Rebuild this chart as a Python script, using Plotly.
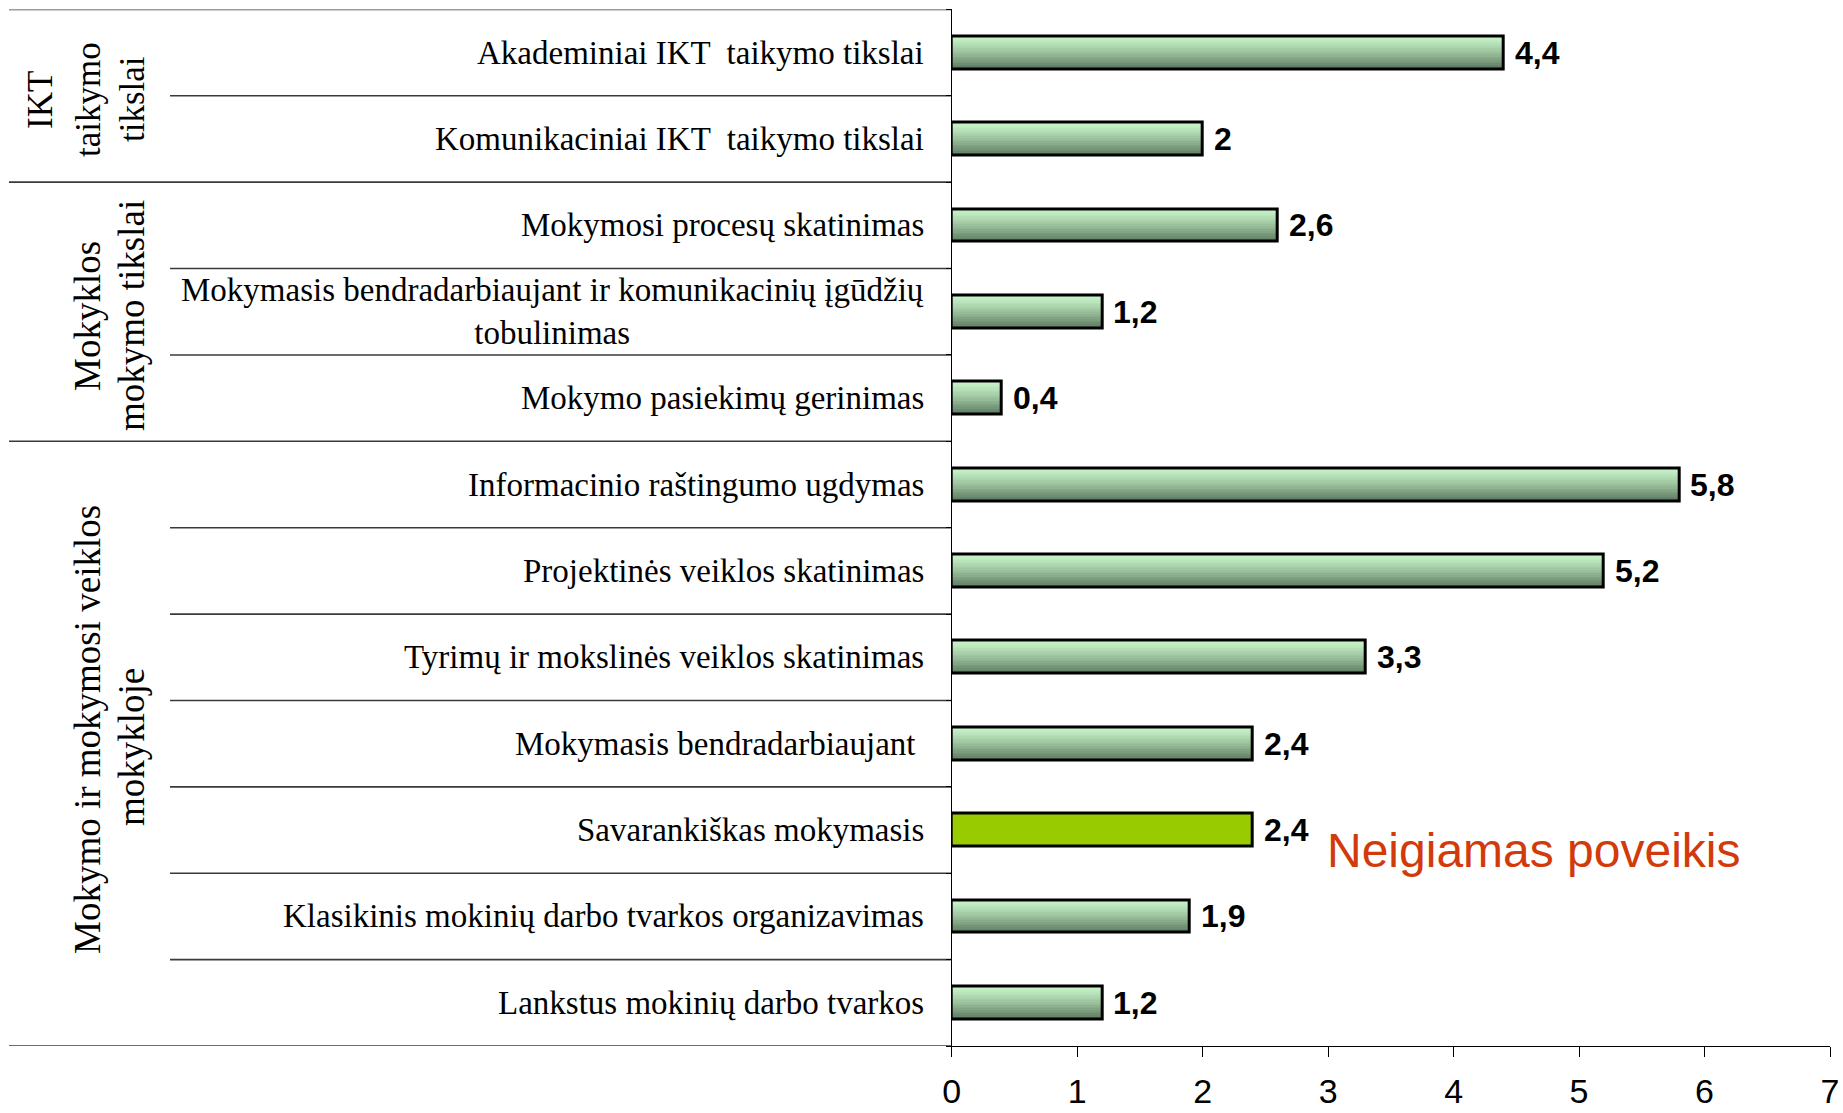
import plotly.graph_objects as go

# ---------------- data ----------------
categories = [
    "Akademiniai IKT  taikymo tikslai",
    "Komunikaciniai IKT  taikymo tikslai",
    "Mokymosi procesų skatinimas",
    "Mokymasis bendradarbiaujant ir komunikacinių įgūdžių<br>tobulinimas",
    "Mokymo pasiekimų gerinimas",
    "Informacinio raštingumo ugdymas",
    "Projektinės veiklos skatinimas",
    "Tyrimų ir mokslinės veiklos skatinimas",
    "Mokymasis bendradarbiaujant ",
    "Savarankiškas mokymasis",
    "Klasikinis mokinių darbo tvarkos organizavimas",
    "Lankstus mokinių darbo tvarkos",
]
values = [4.4, 2, 2.6, 1.2, 0.4, 5.8, 5.2, 3.3, 2.4, 2.4, 1.9, 1.2]
value_labels = ["4,4", "2", "2,6", "1,2", "0,4", "5,8", "5,2", "3,3", "2,4", "2,4", "1,9", "1,2"]
group_lines_1 = ["IKT", "taikymo", "tikslai"]
group_lines_2 = ["Mokyklos", "mokymo tikslai"]
group_lines_3 = ["Mokymo ir mokymosi veiklos", "mokykloje"]
group_first_rows = [0, 2, 5]
group_last_rows = [1, 4, 11]
highlight_index = 9
note_text = "Neigiamas poveikis"
x_tick_values = [0, 1, 2, 3, 4, 5, 6, 7]

# ---------------- layout constants (pixels) ----------------
W, H = 1843, 1113
AX_LEFT, AX_RIGHT = 951.7, 1830.0
AX_TOP, AX_BOTTOM = 9.4, 1046.0
TABLE_LEFT, INNER_LEFT = 9.0, 170.0
LABEL_RIGHT = 926.0


def px(xp):
    return xp / W


def py(yp):
    return 1 - yp / H


rows = list(range(len(categories)))
BAR_W = 0.38
N_SLICES = 20
top_rgb = (202, 246, 202)
bot_rgb = (92, 122, 96)
highlight_color = "#99cc00"

fig = go.Figure()

# gradient bars built from thin slices
for i in range(N_SLICES):
    t = (i + 0.5) / N_SLICES
    t2 = t ** 1.3
    c = tuple(round(top_rgb[k] + (bot_rgb[k] - top_rgb[k]) * t2) for k in range(3))
    col = "rgb(%d,%d,%d)" % c
    colors = [highlight_color if r == highlight_index else col for r in rows]
    fig.add_trace(go.Bar(
        x=values, y=rows, orientation="h",
        width=BAR_W / N_SLICES * 1.1,
        offset=-BAR_W / 2 + i * BAR_W / N_SLICES,
        marker=dict(color=colors, line=dict(width=0)),
        hoverinfo="skip", showlegend=False,
    ))

# outline
fig.add_trace(go.Bar(
    x=values, y=rows, orientation="h", width=BAR_W,
    marker=dict(color="rgba(0,0,0,0)", line=dict(color="black", width=3)),
    hovertemplate="%{x}<extra></extra>", showlegend=False,
))

annotations = []
# data labels
for r, v, lab in zip(rows, values, value_labels):
    annotations.append(dict(
        x=v, y=r, xref="x", yref="y", text=lab, showarrow=False,
        xanchor="left", yanchor="middle", xshift=9,
        font=dict(family="Liberation Sans, Arial, sans-serif", size=32, color="black", weight="bold"),
    ))

# category labels
for r, cat in zip(rows, categories):
    annotations.append(dict(
        x=px(LABEL_RIGHT), y=r, xref="paper", yref="y", text=cat, showarrow=False,
        xanchor="right", yanchor="middle", align="center",
        font=dict(family="Liberation Serif, Times New Roman, serif", size=33, color="black"),
    ))

# group labels (rotated)
group_specs = [
    (group_lines_1, [40, 88, 132], [100, 100, 99], 35),
    (group_lines_2, [87, 131], [316, 316], 37),
    (group_lines_3, [87, 131], [730, 747], 37),
]
for lines, xs, ys, fs in group_specs:
    for line, gx, gy in zip(lines, xs, ys):
        annotations.append(dict(
            x=px(gx), y=py(gy), xref="paper", yref="paper", text=line, showarrow=False,
            textangle=-90, xanchor="center", yanchor="middle",
            font=dict(family="Liberation Serif, Times New Roman, serif", size=fs, color="black"),
        ))

# note
annotations.append(dict(
    x=px(1325), y=py(850), xref="paper", yref="paper", text=note_text, showarrow=False,
    xanchor="left", yanchor="middle",
    font=dict(family="Liberation Sans, Arial, sans-serif", size=48, color="#d23a0a"),
))

# table lines
shapes = []
line_style = dict(color="#3a3a3a", width=1.6)
boundaries = [r - 0.5 for r in rows] + [len(rows) - 0.5]
group_bounds = set([g - 0.5 for g in group_first_rows] + [len(rows) - 0.5])
for b in boundaries:
    x0 = TABLE_LEFT if b in group_bounds else INNER_LEFT
    shapes.append(dict(type="line", xref="paper", yref="y", x0=px(x0), x1=px(AX_LEFT),
                       y0=b, y1=b, line=line_style, layer="below"))

fig.update_layout(
    width=W, height=H,
    margin=dict(l=0, r=0, t=0, b=0, pad=0, autoexpand=False),
    paper_bgcolor="white", plot_bgcolor="white",
    barmode="overlay", bargap=0,
    showlegend=False,
    annotations=annotations,
    shapes=shapes,
    xaxis=dict(
        domain=[px(AX_LEFT), px(AX_RIGHT)],
        range=[0, 7], tickvals=x_tick_values, ticktext=[str(v) for v in x_tick_values],
        showgrid=False, zeroline=False, automargin=False,
        showline=True, linecolor="black", linewidth=1.2,
        ticks="outside", ticklen=10, tickcolor="black", tickwidth=1.2,
        tickfont=dict(family="Liberation Sans, Arial, sans-serif", size=34, color="black"),
        ticklabelstandoff=5,
        fixedrange=True,
    ),
    yaxis=dict(
        domain=[py(AX_BOTTOM), py(AX_TOP)],
        range=[len(rows) - 0.5, -0.5],
        tickvals=boundaries, showticklabels=False, automargin=False,
        showgrid=False, zeroline=False,
        showline=True, linecolor="black", linewidth=1.2,
        ticks="outside", ticklen=5, tickcolor="black", tickwidth=1.2,
        fixedrange=True,
    ),
)

fig.write_html("out.html")
